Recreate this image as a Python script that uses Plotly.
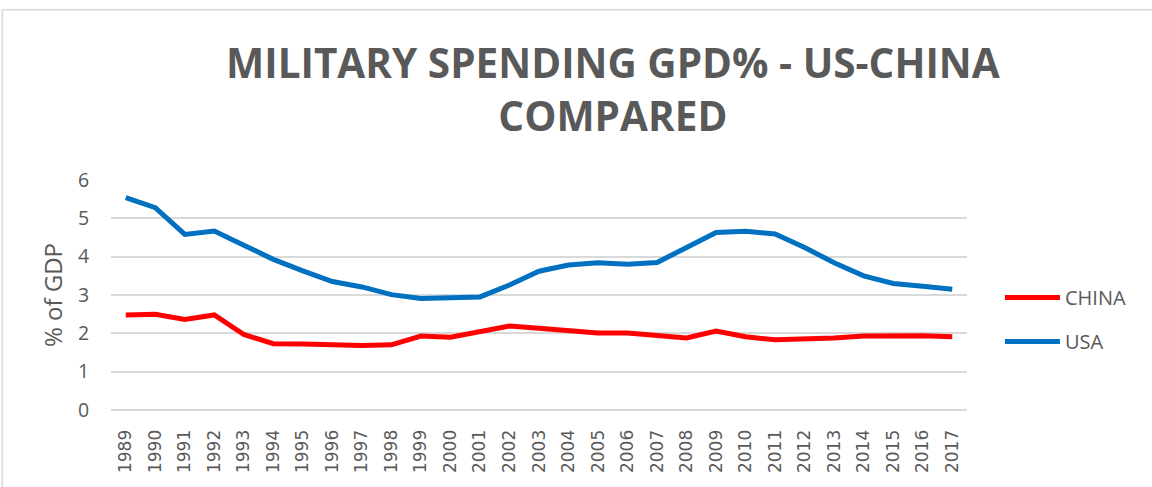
import plotly.graph_objects as go

years = [str(y) for y in range(1989, 2018)]
china = [2.48, 2.50, 2.36, 2.48, 1.97, 1.73, 1.72, 1.70, 1.68, 1.70,
         1.93, 1.90, 2.06, 2.19, 2.13, 2.07, 2.01, 2.01, 1.93, 1.88,
         2.06, 1.91, 1.83, 1.85, 1.88, 1.93, 1.94, 1.94, 1.91]
usa = [5.54, 5.28, 4.58, 4.67, 4.30, 3.93, 3.63, 3.35, 3.21, 3.01,
       2.91, 2.94, 2.95, 3.26, 3.62, 3.78, 3.84, 3.80, 3.85, 4.24,
       4.63, 4.66, 4.59, 4.24, 3.84, 3.50, 3.30, 3.23, 3.15]

grey = '#595959'
font = 'Open Sans, sans-serif'

fig = go.Figure()
fig.add_trace(go.Scatter(x=years, y=china, name='CHINA', mode='lines',
                         legendgroup='c',
                         line=dict(color='#FF0000', width=5)))
fig.add_trace(go.Scatter(x=years, y=usa, name='USA', mode='lines',
                         legendgroup='u',
                         line=dict(color='#0070C0', width=5)))

fig.update_layout(
    width=1152, height=487,
    margin=dict(l=111, r=185, t=180, b=77, autoexpand=False),
    paper_bgcolor='white', plot_bgcolor='white',
    font=dict(family=font, color=grey),
    title=dict(text='<b>MILITARY SPENDING GPD% - US-CHINA<br>COMPARED</b>',
               x=0.532, xanchor='center', y=0.84, yanchor='top',
               font=dict(size=40.5, color=grey, family=font)),
    legend=dict(x=1.0385, y=0.574, xanchor='left', yanchor='top',
                font=dict(size=20, color=grey), itemwidth=55,
                tracegroupgap=15, traceorder='grouped'),
    xaxis=dict(type='category', range=[-0.5, 28.5], tickangle=-90,
               tickfont=dict(size=17, color=grey, family='DejaVu Sans'),
               showgrid=False, automargin=False,
               showline=False, ticks='outside', ticklen=12, tickcolor='white'),
    yaxis=dict(range=[0, 6], dtick=1, showgrid=True, gridcolor='#D9D9D9',
               gridwidth=1.5, zeroline=True, zerolinecolor='#D9D9D9',
               zerolinewidth=1.5, tickfont=dict(size=19.5, color=grey),
               ticks='outside', ticklen=17, tickcolor='white', automargin=False,
               title=dict(text='% of GDP', font=dict(size=24, color=grey),
                          standoff=8)),
    shapes=[
        dict(type='line', xref='paper', yref='paper', x0=-0.127, x1=1.3,
             y0=1.74, y1=1.74, line=dict(color='#D9D9D9', width=1.5)),
        dict(type='line', xref='paper', yref='paper', x0=-0.127, x1=-0.127,
             y0=-0.4, y1=1.74, line=dict(color='#D9D9D9', width=1.5)),
    ],
)

fig.write_html('out.html', config={'displayModeBar': False},
               post_script="document.body.style.margin='0';")
